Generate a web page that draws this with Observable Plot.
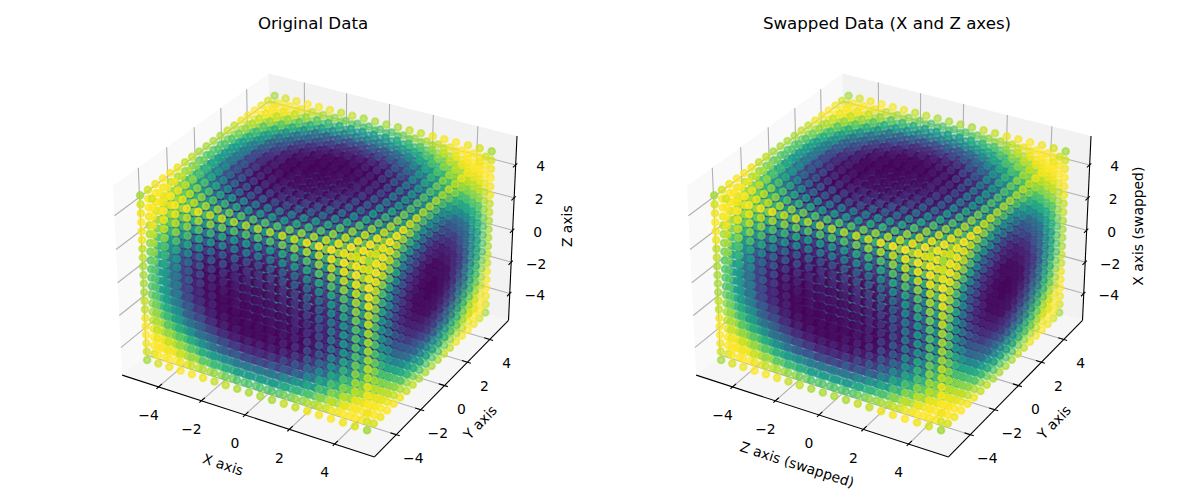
<!DOCTYPE html>
<html><head><meta charset="utf-8">
<style>html,body{margin:0;padding:0;background:#fff}svg{display:block}</style>
<script src="https://cdn.jsdelivr.net/npm/d3@7"></script>
<script src="https://cdn.jsdelivr.net/npm/@observablehq/plot@0.6"></script>
</head><body><div id="chart"></div>
<script>
// Positions: the 20 grid stops counted along the cube's edges in the reference.
const gridValues = [-5,-4.47,-3.95,-3.42,-2.89,-2.37,-1.84,-1.32,-0.79,-0.26,0.26,0.79,1.32,1.84,2.37,2.89,3.42,3.95,4.47,5];
// Colour: the picture's colour bands are concentric around the cube's centre, so tone
// is stored per radius band. Outer bands (r >= 5) are read from the faces; inner
// bands are hidden behind them and are estimates only.
const shellRadius = [0,0.5,1,1.5,2,2.5,3,3.5,4,4.5,5,5.125,5.25,5.375,5.5,5.625,5.75,5.875,6,6.125,6.25,6.375,6.5,6.625,6.75,6.875,7,7.125,7.25,7.375,7.5,7.625,7.75,7.875,8,8.125,8.25,8.375,8.5,8.66];
const shellTone   = [0,0.48,0.84,1,0.91,0.6,0.14,-0.35,-0.76,-0.98,-0.96,-0.92,-0.86,-0.79,-0.71,-0.61,-0.51,-0.4,-0.28,-0.16,-0.03,0.09,0.22,0.34,0.45,0.56,0.66,0.74,0.82,0.88,0.94,0.97,1,1,0.99,0.96,0.92,0.87,0.8,0.72];
const tickValues = [-4,-2,0,2,4];
const panelTitles = ["Original Data","Swapped Data (X and Z axes)"];
const panelOffsets = [0,574];
const axisNames = [["X axis","Y axis","Z axis"],["Z axis (swapped)","Y axis","X axis (swapped)"]];

const L = 5.73;
const half = [0.595,0.595,0.4465];
const U=[0.866,0.5,0], V=[-0.25,0.433,0.866], W=[0.433,-0.75,0.5];
const dot3=(a,b)=>a[0]*b[0]+a[1]*b[1]+a[2]*b[2];
function project(p,off){
  const q=[p[0]/L*half[0],p[1]/L*half[1],p[2]/L*half[2]];
  const d=10-dot3(W,q);
  return {x:318.4+off+2429*dot3(U,q)/d, y:255.5-2412*dot3(V,q)/d, depth:d};
}
const toneAt=r=>shellTone[d3.leastIndex(shellRadius,s=>Math.abs(s-r))];

const marks=[];
const seg=(a,b,off,extra)=>{const p=project(a,off),q=project(b,off);return {x1:p.x,y1:p.y,x2:q.x,y2:q.y,...extra};};
panelOffsets.forEach((off,i)=>{
  const panes=[
    {c:[[-L,-L,-L],[-L,L,-L],[-L,L,L],[-L,-L,L]],fill:"#f9f9f9"},
    {c:[[-L,L,-L],[L,L,-L],[L,L,L],[-L,L,L]],fill:"#f2f2f2"},
    {c:[[-L,-L,-L],[L,-L,-L],[L,L,-L],[-L,L,-L]],fill:"#f6f6f6"}
  ];
  panes.forEach(pn=>marks.push(Plot.line(pn.c.map(c=>project(c,off)),{x:"x",y:"y",fill:pn.fill,stroke:"none"})));
  const grid=[];
  tickValues.forEach(t=>{
    grid.push(seg([t,-L,-L],[t,L,-L],off),seg([t,L,-L],[t,L,L],off));
    grid.push(seg([-L,t,-L],[L,t,-L],off),seg([-L,t,-L],[-L,t,L],off));
    grid.push(seg([-L,-L,t],[-L,L,t],off),seg([-L,L,t],[L,L,t],off));
  });
  marks.push(Plot.link(grid,{x1:"x1",y1:"y1",x2:"x2",y2:"y2",stroke:"#b0b0b0",strokeWidth:1.1}));
  const axes=[seg([-L,-L,-L],[L,-L,-L],off),seg([L,-L,-L],[L,L,-L],off),seg([L,L,-L],[L,L,L],off)];
  tickValues.forEach(t=>{
    axes.push(seg([t,-L-0.15,-L],[t,-L+0.25,-L],off));
    axes.push(seg([L+0.15,t,-L],[L-0.25,t,-L],off));
    axes.push(seg([L,L+0.15,t],[L,L-0.25,t],off));
  });
  marks.push(Plot.link(axes,{x1:"x1",y1:"y1",x2:"x2",y2:"y2",stroke:"#000",strokeWidth:1.1}));
  const pts=[];
  for(const a of gridValues)for(const b of gridValues)for(const c of gridValues){
    const xyz=i===0?[a,b,c]:[c,b,a];
    const p=project(xyz,off);
    pts.push({x:p.x,y:p.y,depth:p.depth,tone:toneAt(Math.hypot(a,b,c))});
  }
  pts.sort((m,n)=>n.depth-m.depth);
  const [dn,dx]=d3.extent(pts,d=>d.depth);
  const alpha=d=>0.88-0.4*(d.depth-dn)/(dx-dn);
  marks.push(Plot.dot(pts,{x:"x",y:"y",r:3.3,fill:"tone",stroke:"tone",strokeWidth:2,fillOpacity:alpha,strokeOpacity:alpha}));
  const lab=v=>String(v).replace("-","\u2212");
  const tl=(fn,dx,dy)=>marks.push(Plot.text(tickValues,{x:t=>project(fn(t),off).x,y:t=>project(fn(t),off).y,text:lab,dx,dy,fontSize:13.9,fill:"#000"}));
  tl(t=>[t,-L,-L],-10,29);
  tl(t=>[L,t,-L],17,24);
  tl(t=>[L,L,t],25,2);
  const al=(c,name,dx,dy,rotate)=>{const p=project(c,off);marks.push(Plot.text([name],{x:()=>p.x,y:()=>p.y,text:d=>d,dx,dy,rotate,fontSize:13.9,fill:"#000"}));};
  al([0,-L,-L],axisNames[i][0],-22,50,18);
  al([L,0,-L],axisNames[i][1],36,37,-46);
  al([L,L,0],axisNames[i][2],i===0?55:52,-4,-90);
  marks.push(Plot.text([panelTitles[i]],{x:()=>312.5+off,y:()=>23,text:d=>d,fontSize:16.67,fill:"#000"}));
});
const chart=Plot.plot({
  width:1200,height:500,margin:0,
  style:{fontFamily:"'DejaVu Sans',sans-serif",background:"#fff"},
  x:{domain:[0,1200],range:[0,1200],axis:null},
  y:{domain:[0,500],range:[0,500],axis:null},
  color:{scheme:"viridis",domain:[-1,1],type:"linear"},
  opacity:{type:"identity"},
  marks
});
document.getElementById("chart").append(chart);
</script></body></html>
